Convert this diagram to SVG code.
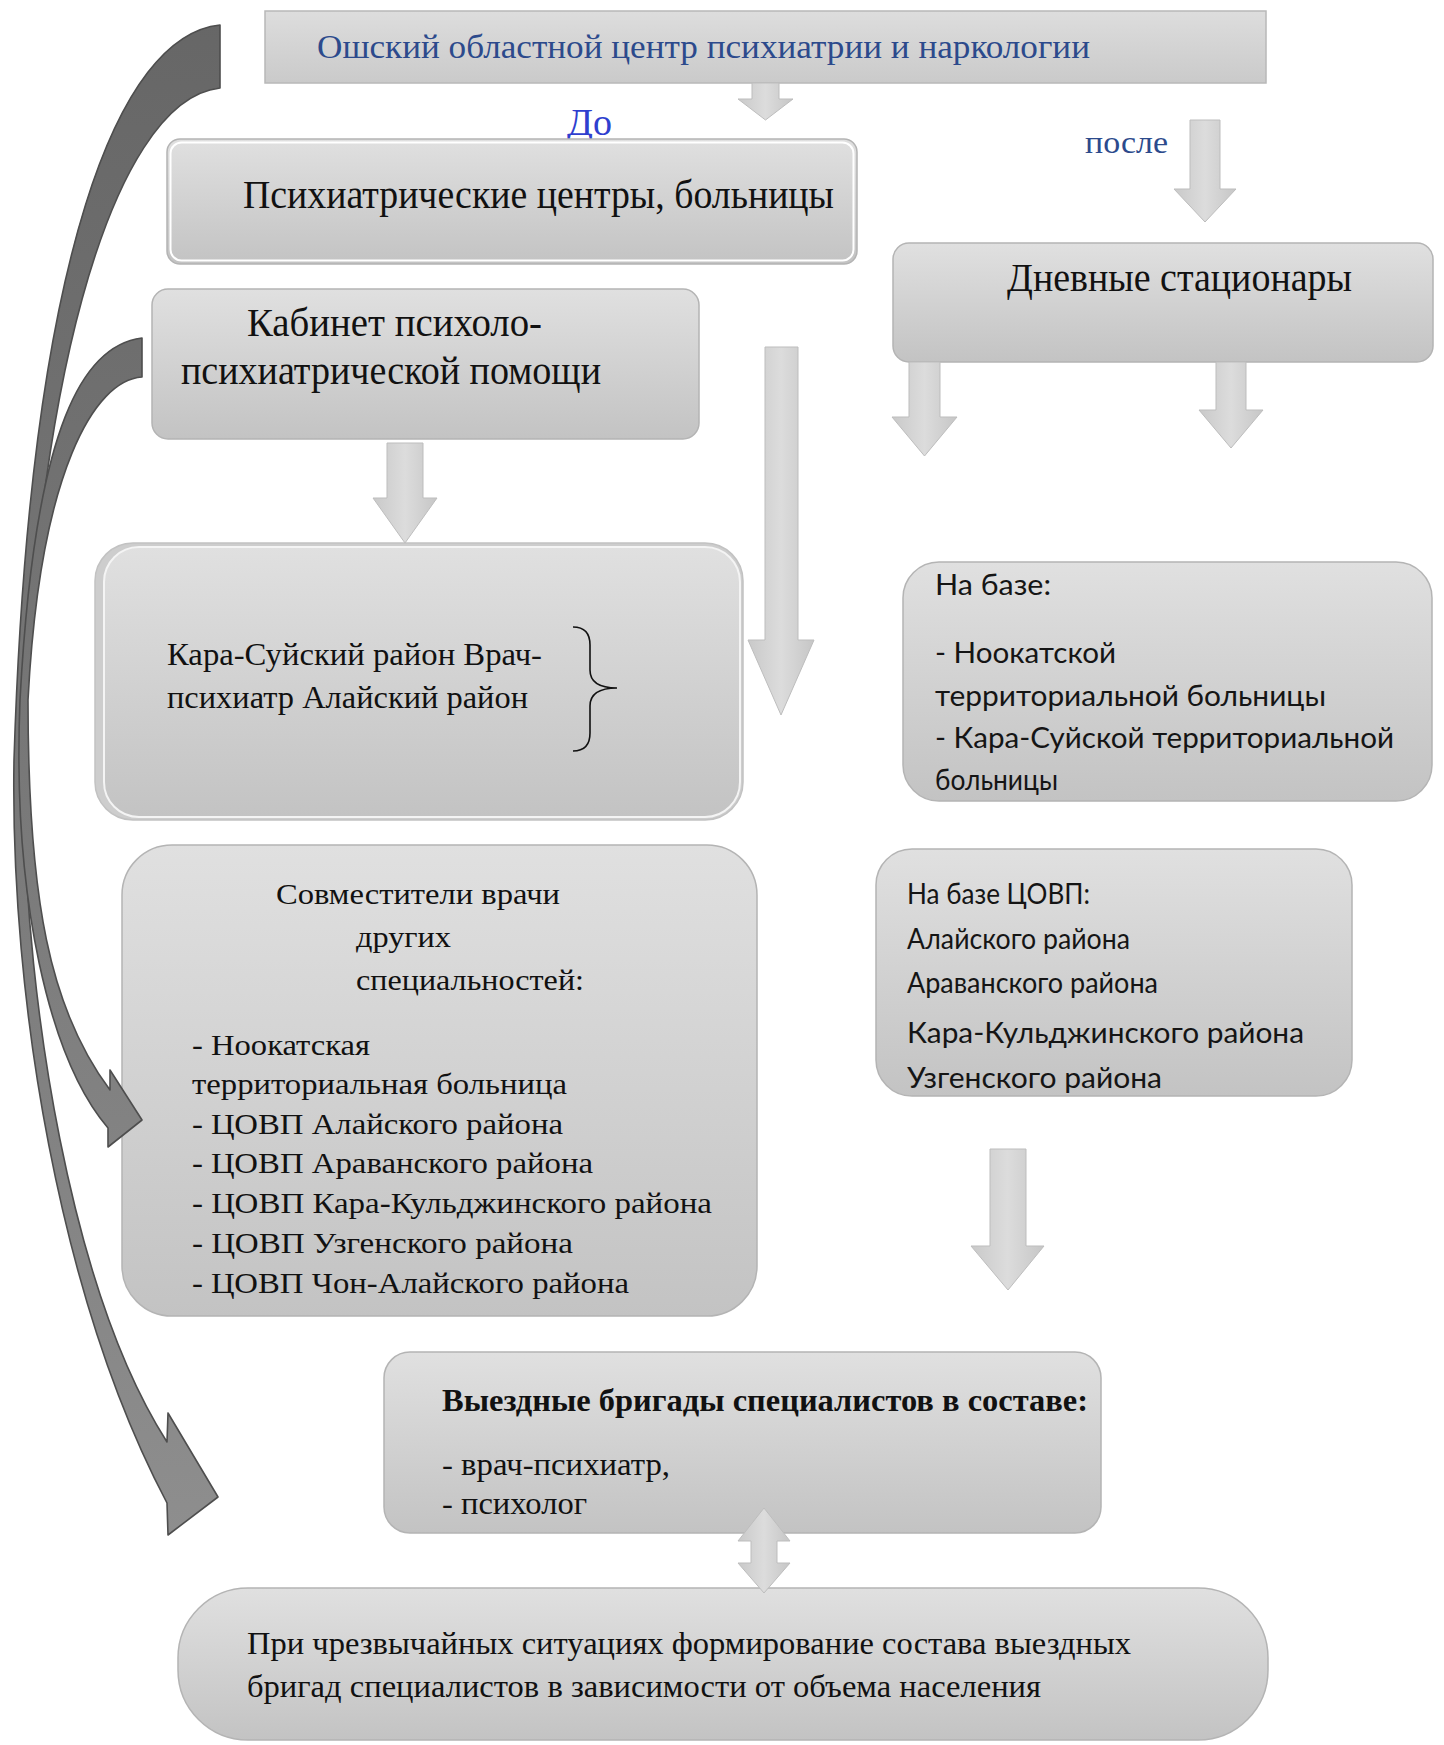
<svg xmlns="http://www.w3.org/2000/svg" width="1444" height="1745" viewBox="0 0 1444 1745">
<defs>
<linearGradient id="boxg" x1="0" y1="0" x2="0" y2="1">
<stop offset="0" stop-color="#e0e0e0"/>
<stop offset="1" stop-color="#c3c3c3"/>
</linearGradient>
<linearGradient id="topg" x1="0" y1="0" x2="0" y2="1">
<stop offset="0" stop-color="#dddddd"/>
<stop offset="1" stop-color="#cacaca"/>
</linearGradient>
<linearGradient id="arrg" x1="0" y1="0" x2="1" y2="0">
<stop offset="0" stop-color="#c9c9c9"/>
<stop offset="0.5" stop-color="#dcdcdc"/>
<stop offset="1" stop-color="#c6c6c6"/>
</linearGradient>
<linearGradient id="darkg" gradientUnits="userSpaceOnUse" x1="0" y1="0" x2="0" y2="1540">
<stop offset="0" stop-color="#666666"/>
<stop offset="0.5" stop-color="#787878"/>
<stop offset="1" stop-color="#8e8e8e"/>
</linearGradient>
</defs>
<style>
.box{fill:url(#boxg);stroke:#b4b4b4;stroke-width:1.5}
.arr{fill:url(#arrg);stroke:#bdbdbd;stroke-width:1}
.dark{fill:url(#darkg);stroke:#4e4e4e;stroke-width:1.6;stroke-linejoin:round}
.serif{font-family:"Liberation Serif","Times New Roman",serif;fill:#111}
.sans{font-family:Lato,"Open Sans","Liberation Sans",sans-serif;fill:#151515}
</style>
<rect width="1444" height="1745" fill="#ffffff"/>

<g id="node-oblast-center">
<rect x="265" y="11" width="1001" height="72" fill="url(#topg)" stroke="#b8b8b8" stroke-width="1.5"/>
<text x="317" y="58" font-family="Liberation Serif,serif" font-size="34" fill="#2c4a8c" textLength="773" lengthAdjust="spacingAndGlyphs">Ошский областной центр психиатрии и наркологии</text>
</g>

<g id="label-do">
<text x="567" y="135" font-family="Liberation Serif,serif" font-size="37" fill="#2f3fcf" textLength="45" lengthAdjust="spacingAndGlyphs">До</text>
</g>

<g id="label-posle">
<text x="1085" y="153" font-family="Liberation Serif,serif" font-size="32" fill="#2c4a8c" textLength="83" lengthAdjust="spacingAndGlyphs">после</text>
</g>

<g id="node-psych-centers">
<rect class="box" x="167" y="139" width="690" height="125" rx="13"/>
<rect x="170.5" y="142.5" width="683" height="118" rx="11" fill="none" stroke="#ffffff" stroke-width="2"/>
<text class="serif" x="243" y="208" font-size="40" textLength="591" lengthAdjust="spacingAndGlyphs">Психиатрические центры, больницы</text>
</g>

<g id="node-day-hospitals">
<rect class="box" x="893" y="243" width="540" height="119" rx="16"/>
<text class="serif" x="1007" y="291" font-size="40" textLength="345" lengthAdjust="spacingAndGlyphs">Дневные стационары</text>
</g>

<g id="node-cabinet">
<rect class="box" x="152" y="289" width="547" height="150" rx="16"/>
<text class="serif" x="247" y="336" font-size="40" textLength="295" lengthAdjust="spacingAndGlyphs">Кабинет психоло-</text>
<text class="serif" x="181" y="384" font-size="40" textLength="420" lengthAdjust="spacingAndGlyphs">психиатрической помощи</text>
</g>

<g id="node-kara-suy">
<rect x="95" y="543" width="648" height="277" rx="38" fill="#cdcdcd" stroke="#c2c2c2" stroke-width="1.5"/>
<rect x="104" y="547" width="636" height="270" rx="35" fill="url(#boxg)" stroke="#f4f4f4" stroke-width="2"/>
<text class="serif" x="167" y="665" font-size="31" textLength="375" lengthAdjust="spacingAndGlyphs">Кара-Суйский район Врач-</text>
<text class="serif" x="167" y="708" font-size="31" textLength="361" lengthAdjust="spacingAndGlyphs">психиатр Алайский район</text>
<path d="M573,627 Q590,627 590,645 L590,670 Q590,688 617,688 Q590,688 590,706 L590,733 Q590,751 573,751" fill="none" stroke="#111" stroke-width="1.6"/>
</g>

<g id="node-na-baze">
<rect class="box" x="903" y="562" width="529" height="239" rx="36"/>
<text class="sans" x="935" y="595" font-size="28" textLength="116" lengthAdjust="spacingAndGlyphs">На базе:</text>
<text class="sans" x="935" y="663" font-size="28" textLength="181" lengthAdjust="spacingAndGlyphs">- Ноокатской</text>
<text class="sans" x="935" y="706" font-size="28" textLength="391" lengthAdjust="spacingAndGlyphs">территориальной больницы</text>
<text class="sans" x="935" y="748" font-size="28" textLength="459" lengthAdjust="spacingAndGlyphs">- Кара-Суйской территориальной</text>
<text class="sans" x="935" y="790" font-size="28" textLength="123" lengthAdjust="spacingAndGlyphs">больницы</text>
</g>

<g id="node-na-baze-covp">
<rect class="box" x="876" y="849" width="476" height="247" rx="36"/>
<text class="sans" x="907" y="904" font-size="28" textLength="183" lengthAdjust="spacingAndGlyphs">На базе ЦОВП:</text>
<text class="sans" x="907" y="949" font-size="28" textLength="223" lengthAdjust="spacingAndGlyphs">Алайского района</text>
<text class="sans" x="907" y="993" font-size="28" textLength="251" lengthAdjust="spacingAndGlyphs">Араванского района</text>
<text class="sans" x="907" y="1043" font-size="28" textLength="397" lengthAdjust="spacingAndGlyphs">Кара-Кульджинского района</text>
<text class="sans" x="907" y="1088" font-size="28" textLength="255" lengthAdjust="spacingAndGlyphs">Узгенского района</text>
</g>

<g id="node-sovmestiteli">
<rect class="box" x="122" y="845" width="635" height="471" rx="50"/>
<text class="serif" x="276" y="904" font-size="30" textLength="284" lengthAdjust="spacingAndGlyphs">Совместители врачи</text>
<text class="serif" x="356" y="947" font-size="30" textLength="95" lengthAdjust="spacingAndGlyphs">других</text>
<text class="serif" x="356" y="990" font-size="30" textLength="228" lengthAdjust="spacingAndGlyphs">специальностей:</text>
<text class="serif" x="192" y="1055" font-size="30" textLength="178" lengthAdjust="spacingAndGlyphs">- Ноокатская</text>
<text class="serif" x="192" y="1094" font-size="30" textLength="375" lengthAdjust="spacingAndGlyphs">территориальная больница</text>
<text class="serif" x="192" y="1134" font-size="30" textLength="371" lengthAdjust="spacingAndGlyphs">- ЦОВП Алайского района</text>
<text class="serif" x="192" y="1173" font-size="30" textLength="401" lengthAdjust="spacingAndGlyphs">- ЦОВП Араванского района</text>
<text class="serif" x="192" y="1213" font-size="30" textLength="520" lengthAdjust="spacingAndGlyphs">- ЦОВП Кара-Кульджинского района</text>
<text class="serif" x="192" y="1253" font-size="30" textLength="381" lengthAdjust="spacingAndGlyphs">- ЦОВП Узгенского района</text>
<text class="serif" x="192" y="1293" font-size="30" textLength="437" lengthAdjust="spacingAndGlyphs">- ЦОВП Чон-Алайского района</text>
</g>

<g id="node-brigades">
<rect class="box" x="384" y="1352" width="717" height="181" rx="26"/>
<text class="serif" x="442" y="1411" font-size="31" font-weight="bold" textLength="646" lengthAdjust="spacingAndGlyphs">Выездные бригады специалистов в составе:</text>
<text class="serif" x="442" y="1475" font-size="31" textLength="228" lengthAdjust="spacingAndGlyphs">- врач-психиатр,</text>
<text class="serif" x="442" y="1514" font-size="31" textLength="145" lengthAdjust="spacingAndGlyphs">- психолог</text>
</g>

<g id="node-emergency">
<rect class="box" x="178" y="1588" width="1090" height="152" rx="70"/>
<text class="serif" x="247" y="1654" font-size="31" textLength="884" lengthAdjust="spacingAndGlyphs">При чрезвычайных ситуациях формирование состава выездных</text>
<text class="serif" x="247" y="1697" font-size="31" textLength="794" lengthAdjust="spacingAndGlyphs">бригад специалистов в зависимости от объема населения</text>
</g>

<g id="connectors">
<path class="arr" d="M752,83 L779,83 L779,99 L793,99 L765.5,120 L738,99 L752,99 Z"/>
<path class="arr" d="M1190,120 L1220,120 L1220,189 L1236,189 L1205,222 L1174,189 L1190,189 Z"/>
<path class="arr" d="M387,443 L423,443 L423,498 L437,498 L405,543 L373,498 L387,498 Z"/>
<path class="arr" d="M765,347 L798,347 L798,640 L814,640 L781,715 L748,640 L765,640 Z"/>
<path class="arr" d="M909,362 L940,362 L940,417 L957,417 L924.5,456 L892,417 L909,417 Z"/>
<path class="arr" d="M1216,362 L1246,362 L1246,410 L1263,410 L1231,448 L1199,410 L1216,410 Z"/>
<path class="arr" d="M990,1149 L1026,1149 L1026,1246 L1044,1246 L1008,1290 L971,1246 L990,1246 Z"/>
<path class="arr" d="M764,1508 L790,1541 L777,1541 L777,1563 L790,1563 L764,1593 L738,1563 L751,1563 L751,1541 L738,1541 Z"/>
<path class="dark" d="M220,25 C120,35 30,250 14,760 C10,1000 60,1300 167,1503 L168,1535 L218,1497 L168,1413 L167,1442 C70,1290 26,1000 24,800 C28,400 110,100 220,88 Z"/>
<path class="dark" d="M142,338 C85,345 35,420 20,700 C12,900 50,1060 108,1128 L108,1147 L142,1120 L110,1070 L110,1090 C50,1010 28,900 28,700 C40,470 95,380 142,377 Z"/>
</g>
</svg>
